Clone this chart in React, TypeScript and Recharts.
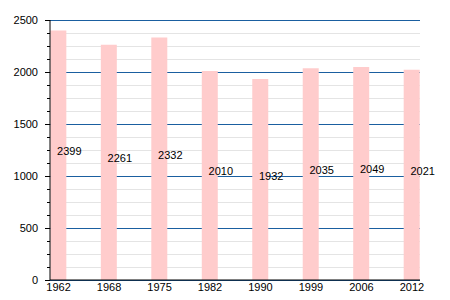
import { Bar, BarChart, CartesianGrid, LabelList, XAxis, YAxis } from "recharts";

const years = ["1962", "1968", "1975", "1982", "1990", "1999", "2006", "2012"];
const population = [2399, 2261, 2332, 2010, 1932, 2035, 2049, 2021];
const yTicks = [
  0, 125, 250, 375, 500, 625, 750, 875, 1000, 1125, 1250, 1375, 1500, 1625, 1750, 1875, 2000,
  2125, 2250, 2375, 2500,
];

const data = years.map((y, i) => ({ idx: i, year: y, value: population[i] }));
const FONT = "'Liberation Sans', Arial, sans-serif";

// minor lines grey, every 4th (multiples of 500) blue
function GridLine(props: any) {
  const { x1, x2, y1, y2, index } = props;
  const major = index % 4 === 0;
  return (
    <line
      x1={x1}
      x2={x2}
      y1={y1 + 0.5}
      y2={y2 + 0.5}
      stroke={major ? "#1a5fa0" : "#e4e4e4"}
      strokeWidth={1}
    />
  );
}

function YTick(props: any) {
  const { x, y, payload } = props;
  const major = payload.value % 500 === 0;
  return (
    <g>
      <line x1={x - (major ? 5 : 3)} x2={x} y1={y + 0.5} y2={y + 0.5} stroke="#000" />
      {major && (
        <text x={x - 12} y={y} textAnchor="end" dominantBaseline="central" fontSize={11} fill="#000" fontFamily={FONT}>
          {payload.value}
        </text>
      )}
    </g>
  );
}

function ValueLabel(props: any) {
  const { x, y, width, height, value } = props;
  return (
    <text
      x={x + width / 2 + 11}
      y={y + height / 2 - 4}
      textAnchor="middle"
      dominantBaseline="central"
      fontSize={11}
      fill="#000"
      fontFamily={FONT}
    >
      {value}
    </text>
  );
}

export default function App() {
  return (
    <div style={{ position: "absolute", left: 0, top: 0, background: "#fff" }}>
      <BarChart width={450} height={300} data={data} margin={{ top: 20, right: 30, bottom: 0, left: 0 }}>
        <CartesianGrid vertical={false} horizontal={(p: any) => <GridLine {...p} key={p.key ?? p.index} />} />
        <XAxis
          dataKey="idx"
          type="number"
          domain={[-0.17, 7.16]}
          ticks={[0, 1, 2, 3, 4, 5, 6, 7]}
          tickFormatter={(v: number) => years[v]}
          tickLine={false}
          tickSize={0}
          tickMargin={3}
          height={20}
          stroke="#000"
          tick={{ fontSize: 11, fill: "#000", fontFamily: FONT }}
          allowDecimals={false}
        />
        <YAxis
          domain={[0, 2500]}
          ticks={yTicks}
          interval={0}
          width={50}
          tickLine={false}
          tickSize={0}
          tickMargin={0}
          stroke="#000"
          tick={<YTick />}
        />
        <Bar dataKey="value" fill="#ffcccc" barSize={16} isAnimationActive={false}>
          <LabelList dataKey="value" content={<ValueLabel />} />
        </Bar>
      </BarChart>
    </div>
  );
}
